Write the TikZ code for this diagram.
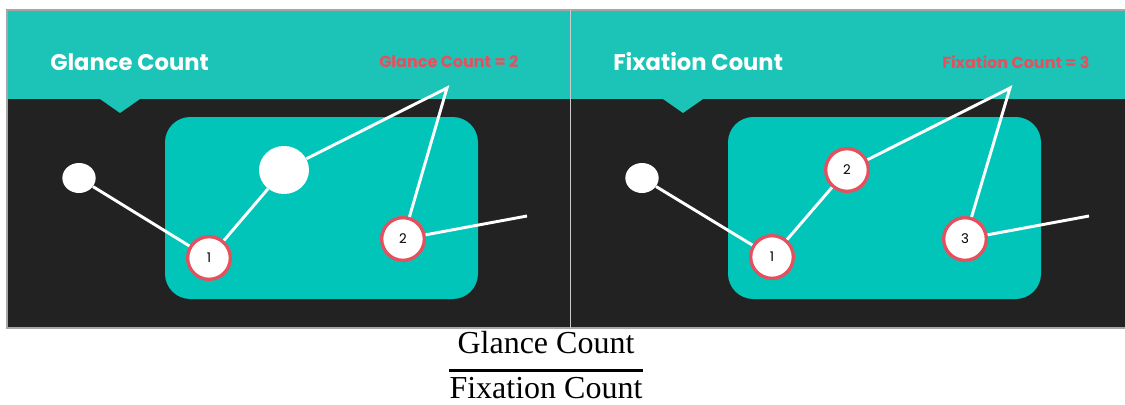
\documentclass[tikz,border=0pt]{standalone}
\usepackage{fontspec}
\setmainfont{Liberation Serif}
\newfontfamily\gothic{Poppins}
\usetikzlibrary{shapes.geometric}
\definecolor{headteal}{HTML}{1BC4B7}
\definecolor{boxteal}{HTML}{02C5BA}
\definecolor{slate}{HTML}{222222}
\definecolor{gazered}{HTML}{E5505E}
\tikzset{
	fix/.style={circle, draw=gazered, fill=white, line width=2.5pt, minimum size=32pt, inner sep=0pt, font=\gothic\fontsize{10}{10}\selectfont},
	glance/.style={ellipse, fill=white, inner sep=0pt},
	scan/.style={white, line width=2.2pt},
	title/.style={anchor=west, inner xsep=0pt, text=white, font=\gothic\bfseries\fontsize{17}{20}\selectfont},
	tally/.style={anchor=west, inner xsep=0pt, text=gazered, font=\gothic\bfseries\fontsize{12}{14}\selectfont},
	ratio/.style={anchor=base, inner xsep=0pt, font=\fontsize{24}{28}\selectfont}
}

\begin{document}
\begin{tikzpicture}[x=0.75pt, y=-0.75pt]
	\useasboundingbox (0,0) rectangle (1125,404);
	
	\fill[slate] (7,10) rectangle (1125,328);
	\fill[headteal] (7,10) rectangle (1125,99);
	\fill[headteal] (100,99) -- (140,99) -- (120,113) -- cycle;
	\fill[headteal] (663,99) -- (703,99) -- (683,113) -- cycle;
	\fill[boxteal, rounded corners=19pt] (165,117) rectangle (478,299);
	\fill[boxteal, rounded corners=19pt] (728,117) rectangle (1041,299);
	\draw[gray!70, line width=0.8pt] (1125,328) -- (7,328) -- (7,10) -- (1125,10);
	\draw[gray!40, line width=0.6pt] (570,10) -- (570,328);
	
	\node[title] (gtitle) at (50,62) {Glance Count};
	\node[tally] (gtally) at (379,62) {Glance Count = 2};
	\node[glance, minimum width=25pt, minimum height=22.5pt] (g0) at (79,178) {};
	\node[fix] (g1) at (209,258) {1};
	\node[glance, minimum width=37.5pt, minimum height=36pt] (g2) at (284,170) {};
	\node[fix] (g3) at (403,239) {2};
	\coordinate (gpeak) at (447,88);
	\coordinate (gend) at (527,216);
	\draw[scan] (g0) -- (g1) -- (g2) -- (gpeak) -- (g3) -- (gend);
	
	\node[title] (ftitle) at (613,62) {Fixation Count};
	\node[tally] (ftally) at (942,62) {Fixation Count = 3};
	\node[glance, minimum width=25pt, minimum height=22.5pt] (f0) at (642,178) {};
	\node[fix] (f1) at (772,257) {1};
	\node[fix] (f2) at (847,170) {2};
	\node[fix] (f3) at (965,239) {3};
	\coordinate (fpeak) at (1010,88);
	\coordinate (fend) at (1089,216);
	\draw[scan] (f0) -- (f1) -- (f2) -- (fpeak) -- (f3) -- (fend);
	
	\node[ratio] (num) at (546,353) {Glance Count};
	\node[ratio] (den) at (546,398) {Fixation Count};
	\draw[line width=2.2pt] ([yshift=1pt]den.north west) -- ([yshift=1pt]den.north east);
\end{tikzpicture}
\end{document}
